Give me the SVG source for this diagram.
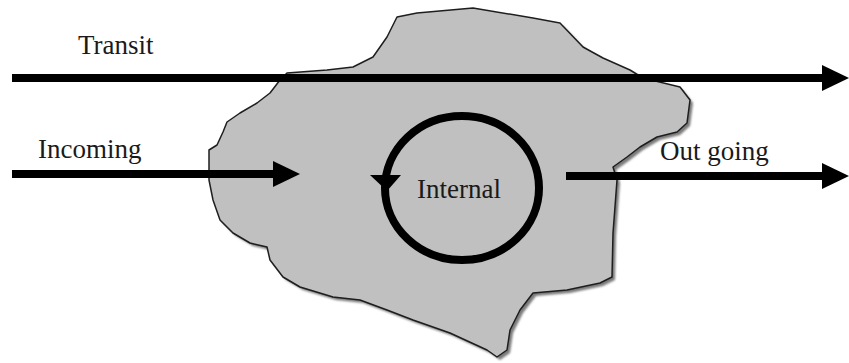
<svg xmlns="http://www.w3.org/2000/svg" width="849" height="363" viewBox="0 0 849 363">
  <style>
    .label { font-family: "Liberation Serif", "Times New Roman", serif; font-size: 27px; fill: #1a1a1a; }
    .flow { stroke: #000; stroke-width: 8; fill: none; }
  </style>
  <defs>
    <marker id="head" markerUnits="userSpaceOnUse" markerWidth="28" markerHeight="28" refX="0" refY="13" orient="auto" overflow="visible">
      <path d="M0,0 L27,13 L0,26 Z" fill="#000"/>
    </marker>
    <filter id="soft" x="-5%" y="-5%" width="110%" height="110%">
      <feGaussianBlur stdDeviation="1.2"/>
    </filter>
  </defs>

  <rect width="849" height="363" fill="#fff"/>

  <!-- network region (irregular cloud) -->
  <g id="network">
    <path id="networkShadow" filter="url(#soft)" fill="#7a7a7a" transform="translate(3,3)"
      d="M397,17 L417,13 L473,8 L533,18 L560,23 L583,47 L603,58 L630,70 L643,78 L680,87 L690,100 L687,123 L677,132 L657,137 L640,147 L627,157 L613,167 L617,180 L613,233 L612,277 L600,283 L567,290 L533,293 L520,310 L510,330 L507,350 L497,357 L487,350 L450,333 L413,320 L387,310 L360,300 L333,297 L300,287 L283,277 L270,260 L267,247 L250,243 L233,233 L220,220 L213,200 L209,180 L209,150 L217,145 L223,132 L227,122 L240,113 L257,103 L270,93 L280,80 L287,73 L327,70 L353,67 L373,57 L387,37 Z"/>
    <path id="networkBody" fill="#c0c0c0" stroke="#1e1e1e" stroke-width="1.5" stroke-linejoin="round"
      d="M397,17 L417,13 L473,8 L533,18 L560,23 L583,47 L603,58 L630,70 L643,78 L680,87 L690,100 L687,123 L677,132 L657,137 L640,147 L627,157 L613,167 L617,180 L613,233 L612,277 L600,283 L567,290 L533,293 L520,310 L510,330 L507,350 L497,357 L487,350 L450,333 L413,320 L387,310 L360,300 L333,297 L300,287 L283,277 L270,260 L267,247 L250,243 L233,233 L220,220 L213,200 L209,180 L209,150 L217,145 L223,132 L227,122 L240,113 L257,103 L270,93 L280,80 L287,73 L327,70 L353,67 L373,57 L387,37 Z"/>
  </g>

  <!-- internal traffic loop -->
  <g id="internal">
    <ellipse cx="462" cy="188" rx="77" ry="72" class="flow"/>
    <path d="M370,175 L401,175 L387,191 Z" fill="#000"/>
    <text class="label" x="417" y="198">Internal</text>
  </g>

  <!-- traffic flows -->
  <g id="connectors">
    <line class="flow" x1="12" y1="78" x2="822" y2="78" marker-end="url(#head)"/>
    <line class="flow" x1="12" y1="174" x2="273" y2="174" marker-end="url(#head)"/>
    <line class="flow" x1="566" y1="176" x2="822" y2="176" marker-end="url(#head)"/>
  </g>

  <g id="labels">
    <text class="label" x="78" y="54">Transit</text>
    <text class="label" x="38" y="158">Incoming</text>
    <text class="label" x="660" y="160">Out going</text>
  </g>
</svg>
